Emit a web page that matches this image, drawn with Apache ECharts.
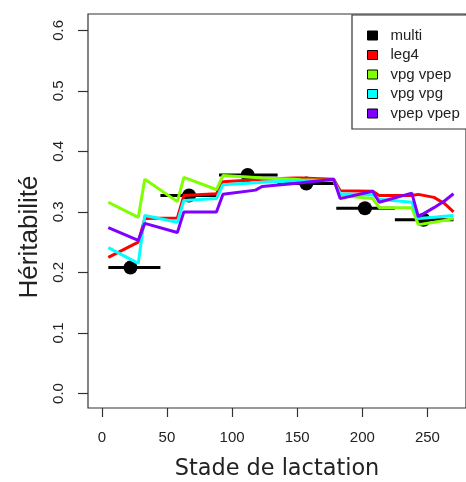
<!DOCTYPE html>
<html>
<head>
<meta charset="utf-8">
<script src="https://cdn.jsdelivr.net/npm/echarts@6/dist/echarts.min.js"></script>
<style>html,body{margin:0;padding:0;background:#fff;}#c{width:466px;height:482px;}</style>
</head>
<body>
<div id="c"></div>
<script>
// ---- data ----
const days = [5, 28, 33, 58, 63, 88, 93, 118, 123, 148, 153, 178, 183, 208, 213, 238, 243, 255, 263, 270];
const leg4     = [0.225,0.250,0.289,0.290,0.327,0.330,0.350,0.353,0.354,0.356,0.356,0.354,0.335,0.334,0.327,0.327,0.329,0.324,0.314,0.300];
const vpgVpep  = [0.316,0.291,0.354,0.317,0.357,0.337,0.360,0.357,0.356,0.354,0.353,0.352,0.327,0.322,0.307,0.307,0.279,0.283,0.286,0.289];
const vpgVpg   = [0.241,0.215,0.294,0.283,0.319,0.322,0.345,0.348,0.349,0.351,0.352,0.352,0.330,0.328,0.321,0.316,0.289,0.291,0.293,0.294];
const vpepVpep = [0.274,0.253,0.281,0.266,0.300,0.300,0.329,0.336,0.342,0.347,0.348,0.354,0.322,0.334,0.316,0.331,0.292,0.307,0.318,0.330];
const stageStart = [5, 45, 90, 135, 180, 225];
const stageEnd   = [45, 90, 135, 180, 225, 270];
const stageMid   = [22, 67, 112, 157, 202, 247];
const multi      = [0.208, 0.327, 0.361, 0.347, 0.306, 0.287];
const xTicks = [0, 50, 100, 150, 200, 250];
const yTicks = [0, 0.1, 0.2, 0.3, 0.4, 0.5, 0.6];
const names = ['multi', 'leg4', 'vpg vpep', 'vpg vpg', 'vpep vpep'];
const colors = ['#000000', '#FF0000', '#80FF00', '#00FFFF', '#8000FF'];

const pair = arr => days.map((d, i) => [d, arr[i]]);
const segData = [];
stageStart.forEach((s, i) => { segData.push([s, multi[i]], [stageEnd[i], multi[i]], null); });

const chart = echarts.init(document.getElementById('c'), null, {renderer: 'canvas'});
const lineSeries = (name, arr, col) => ({
  name, type: 'line', data: pair(arr), color: col, showSymbol: false, symbol: 'none',
  lineStyle: {color: col, width: 3}, itemStyle: {color: col}, animation: false
});
chart.setOption({
  animation: false,
  backgroundColor: '#fff',
  grid: {left: 88, top: 14, width: 382, height: 394, show: true, borderColor: '#333', borderWidth: 1.2, backgroundColor: 'transparent'},
  xAxis: {
    type: 'value', min: -10.6, max: 279.6,
    axisLine: {show: false, onZero: false},
    axisTick: {show: true, length: 9, lineStyle: {color: '#333', width: 1.2}, customValues: xTicks},
    axisLabel: {customValues: xTicks, margin: 22, fontFamily: 'Liberation Sans', fontSize: 15, color: '#222'},
    splitLine: {show: false}
  },
  yAxis: {
    type: 'value', min: -0.024, max: 0.627,
    axisLine: {show: false, onZero: false},
    axisTick: {show: true, length: 10, lineStyle: {color: '#333', width: 1.2}, customValues: yTicks},
    axisLabel: {customValues: yTicks, rotate: 90, margin: 22, fontFamily: 'Liberation Sans', fontSize: 15, color: '#222',
      formatter: v => v.toFixed(1)},
    splitLine: {show: false}
  },
  legend: {
    orient: 'vertical', left: 352, top: 15, align: 'left',
    padding: [13, 20, 8, 15], itemGap: 4.5, itemWidth: 10, itemHeight: 9,
    borderColor: '#333', borderWidth: 1.2, backgroundColor: '#fff',
    icon: 'rect', itemStyle: {borderColor: '#000', borderWidth: 1},
    textStyle: {fontFamily: 'Liberation Sans', fontSize: 15, color: '#222', padding: [0, 0, 0, 8]},
    data: names
  },
  graphic: [
    {type: 'text', x: 30, y: 237, rotation: Math.PI / 2,
      style: {text: 'Héritabilité', fontFamily: 'Liberation Sans', fontSize: 26, fill: '#222', align: 'center', verticalAlign: 'middle'}},
    {type: 'text', x: 277, y: 469,
      style: {text: 'Stade de lactation', fontFamily: 'DejaVu Sans', fontSize: 22.4, fill: '#222', align: 'center', verticalAlign: 'middle'}}
  ],
  series: [
    {name: '_seg', type: 'line', data: segData, connectNulls: false, showSymbol: false, symbol: 'none',
      lineStyle: {color: '#000', width: 3}, color: '#000'},
    {name: 'multi', type: 'scatter', data: stageMid.map((m, i) => [m, multi[i]]), symbol: 'circle', symbolSize: 14,
      itemStyle: {color: '#000', opacity: 1}, color: '#000'},
    lineSeries(names[1], leg4, colors[1]),
    lineSeries(names[2], vpgVpep, colors[2]),
    lineSeries(names[3], vpgVpg, colors[3]),
    lineSeries(names[4], vpepVpep, colors[4])
  ]
});
</script>
</body>
</html>
